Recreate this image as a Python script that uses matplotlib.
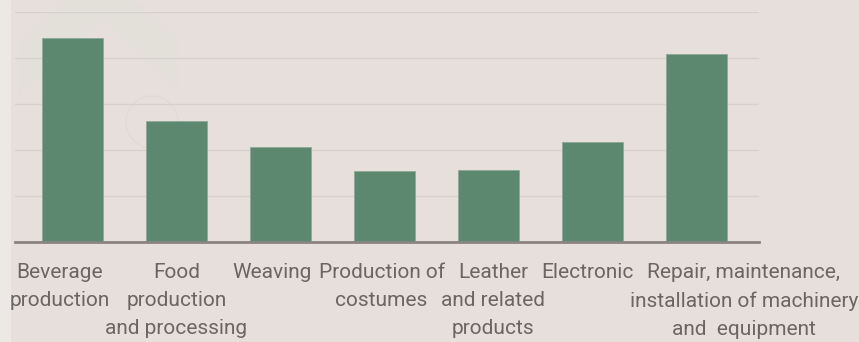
import matplotlib.pyplot as plt
from matplotlib.patches import Polygon, Circle, Rectangle

categories = [
    'Beverage\nproduction',
    'Food\nproduction\nand processing',
    'Weaving',
    'Production of\ncostumes',
    'Leather\nand related\nproducts',
    'Electronic',
    'Repair, maintenance,\ninstallation of machinery\nand  equipment',
]
values = [4.43, 2.62, 2.06, 1.54, 1.56, 2.17, 4.09]

# horizontal nudge of each label, in category units
label_shift = [-0.12, 0.0, -0.08, -0.03, 0.04, -0.05, 0.45]

bg = '#e7dfdc'
bar_color = '#5d8870'
text_color = '#6a6664'

W, H = 859, 342
fig = plt.figure(figsize=(W / 100, H / 100), dpi=100)
fig.patch.set_facecolor(bg)

# backdrop layer in pixel units: pale left strip and faint house logo
back = fig.add_axes([0, 0, 1, 1], zorder=-1)
back.set_xlim(0, W)
back.set_ylim(H, 0)
back.axis('off')
back.add_patch(Rectangle((0, 0), 11, H, facecolor='#ebe8e5', edgecolor='none'))
house = [(18, 95), (18, 42), (62, 0), (135, 0), (178, 38), (178, 90), (102, 20)]
back.add_patch(Polygon(house, closed=True, facecolor='#e3e0da', edgecolor='none'))
back.add_patch(Circle((152, 122), 26, facecolor='none', edgecolor='#e0dcd5', lw=1.2))

ax = fig.add_axes([15 / W, 1 - 242 / H, 744 / W, 230 / H])
ax.set_facecolor('none')

x = list(range(len(categories)))
ax.bar(x, values, width=0.586, color=bar_color, edgecolor='#8fa896',
       linewidth=0.6, zorder=3)

ax.set_xlim(-0.552, 6.596)
ax.set_ylim(0, 5)
ax.set_yticks([1, 2, 3, 4, 5])
ax.yaxis.grid(True, color='#d6d1cd', linewidth=1.0, zorder=0)
ax.tick_params(left=False, labelleft=False, bottom=False, labelbottom=False)
for side in ['top', 'right', 'left']:
    ax.spines[side].set_visible(False)
ax.spines['bottom'].set_color('#898482')
ax.spines['bottom'].set_linewidth(2)
ax.spines['bottom'].set_zorder(4)

for i, label in enumerate(categories):
    ax.text(i + label_shift[i], -0.45, label, ha='center', va='top',
            fontsize=15, family='Roboto', fontweight='normal',
            color=text_color, linespacing=1.62, clip_on=False)

fig.savefig('out.png', dpi=100, facecolor=bg)
